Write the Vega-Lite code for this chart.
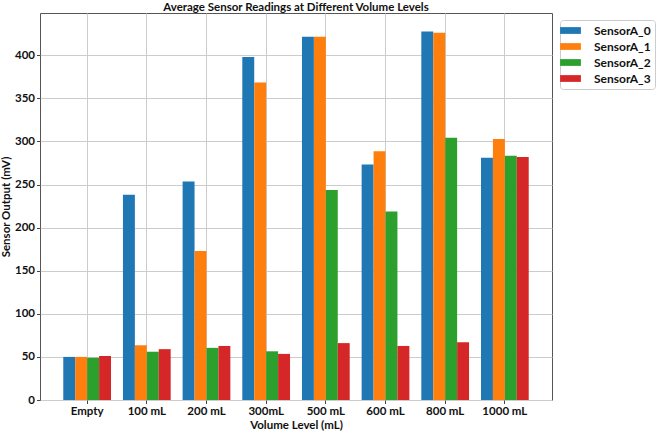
{
  "$schema": "https://vega.github.io/schema/vega-lite/v6.json",
  "autosize": "none",
  "padding": {"left": 40, "top": 13, "right": 104, "bottom": 31},
  "width": 512,
  "height": 387,
  "title": {"text": "Average Sensor Readings at Different Volume Levels", "font": "Lato", "fontSize": 11.5, "fontWeight": "bold", "color": "#111", "offset": 0, "anchor": "middle"},
  "config": {
    "view": {"stroke": "#555", "strokeWidth": 1},
    "font": "Lato",
    "axis": {"labelFont": "Lato", "titleFont": "Lato", "labelFontWeight": "bold", "titleFontWeight": "bold", "labelColor": "#111", "titleColor": "#111", "labelFontSize": 11.5, "titleFontSize": 11.5, "gridColor": "#cccccc", "gridWidth": 1, "tickColor": "#444", "tickSize": 3.5, "domain": false, "labelPadding": 2, "zindex": 1}
  },
  "data": {"values": [
    {"volume": "Empty", "sensor": "SensorA_0", "value": 50},
    {"volume": "Empty", "sensor": "SensorA_1", "value": 50},
    {"volume": "Empty", "sensor": "SensorA_2", "value": 49},
    {"volume": "Empty", "sensor": "SensorA_3", "value": 51},
    {"volume": "100 mL", "sensor": "SensorA_0", "value": 238},
    {"volume": "100 mL", "sensor": "SensorA_1", "value": 63.5},
    {"volume": "100 mL", "sensor": "SensorA_2", "value": 56},
    {"volume": "100 mL", "sensor": "SensorA_3", "value": 59},
    {"volume": "200 mL", "sensor": "SensorA_0", "value": 253.5},
    {"volume": "200 mL", "sensor": "SensorA_1", "value": 173},
    {"volume": "200 mL", "sensor": "SensorA_2", "value": 60.5},
    {"volume": "200 mL", "sensor": "SensorA_3", "value": 62.7},
    {"volume": "300mL", "sensor": "SensorA_0", "value": 398},
    {"volume": "300mL", "sensor": "SensorA_1", "value": 368.5},
    {"volume": "300mL", "sensor": "SensorA_2", "value": 56.5},
    {"volume": "300mL", "sensor": "SensorA_3", "value": 53.5},
    {"volume": "500 mL", "sensor": "SensorA_0", "value": 421.5},
    {"volume": "500 mL", "sensor": "SensorA_1", "value": 421.5},
    {"volume": "500 mL", "sensor": "SensorA_2", "value": 243.5},
    {"volume": "500 mL", "sensor": "SensorA_3", "value": 66},
    {"volume": "600 mL", "sensor": "SensorA_0", "value": 273.3},
    {"volume": "600 mL", "sensor": "SensorA_1", "value": 288.5},
    {"volume": "600 mL", "sensor": "SensorA_2", "value": 218.7},
    {"volume": "600 mL", "sensor": "SensorA_3", "value": 62.7},
    {"volume": "800 mL", "sensor": "SensorA_0", "value": 427.4},
    {"volume": "800 mL", "sensor": "SensorA_1", "value": 426.2},
    {"volume": "800 mL", "sensor": "SensorA_2", "value": 304.3},
    {"volume": "800 mL", "sensor": "SensorA_3", "value": 67},
    {"volume": "1000 mL", "sensor": "SensorA_0", "value": 281},
    {"volume": "1000 mL", "sensor": "SensorA_1", "value": 302.7},
    {"volume": "1000 mL", "sensor": "SensorA_2", "value": 283.4},
    {"volume": "1000 mL", "sensor": "SensorA_3", "value": 281.8}
  ]},
  "mark": {"type": "bar"},
  "encoding": {
    "x": {"field": "volume", "type": "nominal", "sort": ["Empty", "100 mL", "200 mL", "300mL", "500 mL", "600 mL", "800 mL", "1000 mL"],
      "scale": {"paddingInner": 0.2, "paddingOuter": 0.39},
      "axis": {"title": "Volume Level (mL)", "labelAngle": 0, "bandPosition": 0.5, "grid": true, "titlePadding": 2}},
    "xOffset": {"field": "sensor", "type": "nominal", "scale": {"paddingInner": 0, "paddingOuter": 0}},
    "y": {"field": "value", "type": "quantitative",
      "scale": {"domain": [0, 449], "nice": false, "zero": true},
      "axis": {"title": "Sensor Output (mV)", "values": [0, 50, 100, 150, 200, 250, 300, 350, 400], "titlePadding": 3}},
    "color": {"field": "sensor", "type": "nominal",
      "scale": {"domain": ["SensorA_0", "SensorA_1", "SensorA_2", "SensorA_3"], "range": ["#1f77b4", "#ff7f0e", "#2ca02c", "#d62728"]},
      "legend": {"title": null, "orient": "none", "legendX": 520, "legendY": 7, "strokeColor": "#cccccc", "fillColor": "white", "cornerRadius": 3, "padding": 4,
        "symbolType": "M-1.6,-0.52H1.6V0.52H-1.6Z", "symbolSize": 169, "symbolStrokeWidth": 0, "symbolOpacity": 1,
        "labelFont": "Lato", "labelFontWeight": "bold", "labelFontSize": 12, "labelColor": "#111", "labelOffset": 17, "rowPadding": 3, "symbolLimit": 0}}
  }
}
